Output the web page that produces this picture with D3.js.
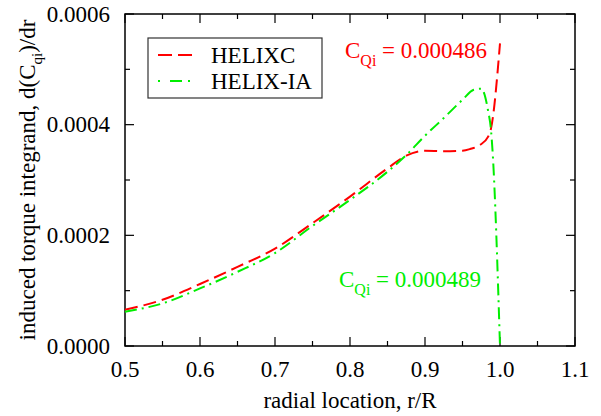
<!DOCTYPE html>
<html>
<head>
<meta charset="utf-8">
<script src="https://cdn.jsdelivr.net/npm/d3@7"></script>
<style>
  body { margin: 0; background: #fff; }
  svg text { font-family: "Liberation Serif", "Times New Roman", serif; }
</style>
</head>
<body>
<svg id="chart" width="601" height="416"></svg>
<script>
// radial stations r/R
const rHelixc = [0.50, 0.55, 0.60, 0.65, 0.70, 0.75, 0.80, 0.85, 0.875, 0.90, 0.925, 0.95, 0.96, 0.973, 0.984, 0.988, 1.0];
const dcqHelixc = [0.0000655, 0.0000835, 0.000112, 0.000143, 0.000176, 0.000222, 0.000270, 0.000321, 0.000344, 0.000353, 0.000352, 0.000353, 0.000356, 0.000363, 0.000378, 0.000393, 0.000547];

const rHelixIA = [0.50, 0.55, 0.60, 0.65, 0.70, 0.75, 0.80, 0.85, 0.875, 0.90, 0.925, 0.95, 0.965, 0.975, 0.984, 0.988, 0.99, 1.0];
const dcqHelixIA = [0.000062, 0.000077, 0.000104, 0.000134, 0.000168, 0.000217, 0.000264, 0.000315, 0.000345, 0.000380, 0.000412, 0.000445, 0.000463, 0.000465, 0.000426, 0.000390, 0.000354, 0.0];

const xTicks = [0.5, 0.6, 0.7, 0.8, 0.9, 1.0, 1.1];
const yTicks = [0, 0.0002, 0.0004, 0.0006];
const seriesNames = ["HELIXC", "HELIX-IA"];
const cqLabels = ["0.000486", "0.000489"];

const pLeft = 125, pRight = 575, pTop = 14, pBottom = 346;
const svg = d3.select("#chart");
const fontSize = 23;

const x = d3.scaleLinear().domain([0.5, 1.1]).range([pLeft, pRight]);
const y = d3.scaleLinear().domain([0, 0.0006]).range([pBottom, pTop]);

// ticks, inward on all four sides
const xMinor = d3.range(0.55, 1.1, 0.1);
const yMinor = d3.range(0.0001, 0.0006, 0.0002);
const tk = svg.append("g").attr("stroke", "#000").attr("stroke-width", 1.2);
xTicks.concat(xMinor).forEach((v, i) => {
  const len = i < xTicks.length ? 9 : 5;
  tk.append("line").attr("x1", x(v)).attr("x2", x(v)).attr("y1", pBottom).attr("y2", pBottom - len);
  tk.append("line").attr("x1", x(v)).attr("x2", x(v)).attr("y1", pTop).attr("y2", pTop + len);
});
yTicks.concat(yMinor).forEach((v, i) => {
  const len = i < yTicks.length ? 9 : 5;
  tk.append("line").attr("y1", y(v)).attr("y2", y(v)).attr("x1", pLeft).attr("x2", pLeft + len);
  tk.append("line").attr("y1", y(v)).attr("y2", y(v)).attr("x1", pRight).attr("x2", pRight - len);
});

svg.append("rect").attr("x", pLeft).attr("y", pTop).attr("width", pRight - pLeft).attr("height", pBottom - pTop)
  .attr("fill", "none").attr("stroke", "#000").attr("stroke-width", 1.5);

// tick labels
svg.append("g").selectAll("text").data(xTicks).enter().append("text")
  .attr("x", d => x(d)).attr("y", 377).attr("text-anchor", "middle")
  .attr("font-size", fontSize).text(d => d.toFixed(1));
svg.append("g").selectAll("text").data(yTicks).enter().append("text")
  .attr("x", 110).attr("y", d => y(d) + 7.5).attr("text-anchor", "end")
  .attr("font-size", fontSize).text(d => d.toFixed(4));

// axis titles
svg.append("text").attr("x", (pLeft + pRight) / 2).attr("y", 408).attr("text-anchor", "middle")
  .attr("font-size", fontSize).text("radial location, r/R");
const yt = svg.append("text").attr("transform", "translate(35," + ((pTop + pBottom) / 2) + ") rotate(-90)")
  .attr("text-anchor", "middle").attr("font-size", fontSize);
yt.append("tspan").text("induced torque integrand, d(C");
yt.append("tspan").attr("font-size", 15).attr("dy", 7).text("qi");
yt.append("tspan").attr("dy", -7).text(")/dr");

// curves
const line = d3.line().x(d => x(d[0])).y(d => y(d[1])).curve(d3.curveMonotoneX);
svg.append("path").datum(d3.zip(rHelixc, dcqHelixc)).attr("d", line)
  .attr("fill", "none").attr("stroke", "#ff0000").attr("stroke-width", 2).attr("stroke-dasharray", "13,6");
svg.append("path").datum(d3.zip(rHelixIA, dcqHelixIA)).attr("d", line)
  .attr("fill", "none").attr("stroke", "#00ee00").attr("stroke-width", 2).attr("stroke-dasharray", "12,5,2,5");

// legend
const lg = svg.append("g");
lg.append("rect").attr("x", 148).attr("y", 38).attr("width", 174).attr("height", 60)
  .attr("fill", "#fff").attr("stroke", "#333").attr("stroke-width", 1.2);
const legendStyles = [["#ff0000", "14,6"], ["#00ee00", "2,10,12,6"]];
seriesNames.forEach((n, i) => {
  const ly = 55 + i * 26;
  lg.append("line").attr("x1", 158).attr("x2", 195).attr("y1", ly).attr("y2", ly)
    .attr("stroke", legendStyles[i][0]).attr("stroke-width", 2).attr("stroke-dasharray", legendStyles[i][1]);
  lg.append("text").attr("x", 211).attr("y", ly + 7.5).attr("font-size", fontSize).text(n);
});

// integrated torque labels
function cqLabel(px, py, color, val) {
  const t = svg.append("text").attr("x", px).attr("y", py).attr("font-size", fontSize).attr("fill", color);
  t.append("tspan").text("C");
  t.append("tspan").attr("font-size", 16).attr("dy", 8).text("Qi");
  t.append("tspan").attr("dy", -8).text(" = " + val);
}
cqLabel(345, 58, "#ff0000", cqLabels[0]);
cqLabel(339, 287, "#00ee00", cqLabels[1]);
</script>
</body>
</html>
